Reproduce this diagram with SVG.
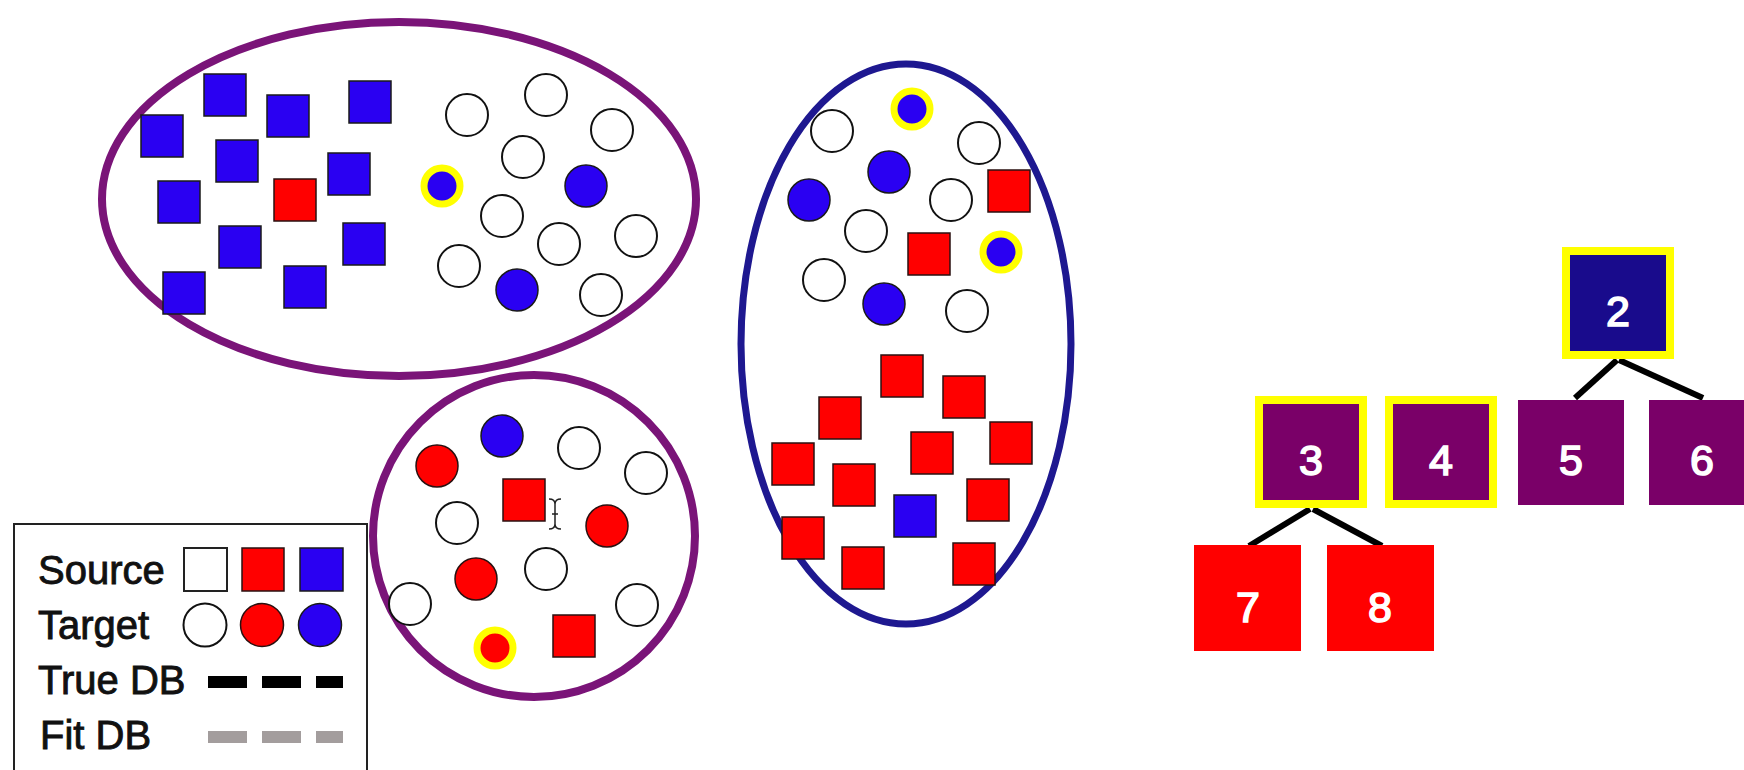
<svg xmlns="http://www.w3.org/2000/svg" xmlns:xlink="http://www.w3.org/1999/xlink" width="1744" height="770" viewBox="0 0 1744 770">
<style>
  .hull-p { fill: none; stroke: #7a1478; stroke-width: 8; }
  .hull-b { fill: none; stroke: #1e1890; stroke-width: 7; }
  .sb { fill: #2a00f2; stroke: #1a1a1a; stroke-width: 1.5; }
  .sr { fill: #ff0000; stroke: #2a1010; stroke-width: 1.5; }
  .sw { fill: #ffffff; stroke: #222; stroke-width: 2; }
  .cw { fill: #ffffff; stroke: #111; stroke-width: 2; }
  .cb { fill: #2a00f2; stroke: #1a1a1a; stroke-width: 1.5; }
  .cr { fill: #ff0000; stroke: #2a1010; stroke-width: 1.5; }
  .yb { fill: #2a00f2; stroke: #ffff00; stroke-width: 7; }
  .yr { fill: #ff0000; stroke: #ffff00; stroke-width: 7; }
  .lg { font-family: "Liberation Sans", Arial, sans-serif; font-size: 40px; fill: #111; stroke: #111; stroke-width: 0.9; }
  .num { font-family: "Liberation Sans", Arial, sans-serif; font-size: 43px; fill: #ffffff; stroke: #ffffff; stroke-width: 1.6; text-anchor: middle; }
  .edge { stroke: #000; stroke-width: 6; fill: none; }
  .navy { fill: #190b8c; }
  .purp { fill: #7a0068; }
  .red { fill: #ff0000; }
  .hl { stroke: #ffff00; stroke-width: 8; }
</style>
<defs>
  <rect id="sq" x="-21" y="-21" width="42" height="42"/>
  <circle id="dot" r="21"/>
  <circle id="ring" r="18"/>
</defs>
<rect width="1744" height="770" fill="#ffffff"/>

<g id="cluster1">
  <ellipse class="hull-p" cx="399" cy="199" rx="297" ry="177"/>
  <use href="#sq" class="sb" x="162" y="136"/>
  <use href="#sq" class="sb" x="225" y="95"/>
  <use href="#sq" class="sb" x="288" y="116"/>
  <use href="#sq" class="sb" x="370" y="102"/>
  <use href="#sq" class="sb" x="237" y="161"/>
  <use href="#sq" class="sb" x="349" y="174"/>
  <use href="#sq" class="sb" x="179" y="202"/>
  <use href="#sq" class="sr" x="295" y="200"/>
  <use href="#sq" class="sb" x="240" y="247"/>
  <use href="#sq" class="sb" x="364" y="244"/>
  <use href="#sq" class="sb" x="184" y="293"/>
  <use href="#sq" class="sb" x="305" y="287"/>
  <use href="#dot" class="cw" x="467" y="115"/>
  <use href="#dot" class="cw" x="546" y="95"/>
  <use href="#dot" class="cw" x="612" y="130"/>
  <use href="#dot" class="cw" x="523" y="157"/>
  <use href="#ring" class="yb" x="442" y="186"/>
  <use href="#dot" class="cb" x="586" y="186"/>
  <use href="#dot" class="cw" x="502" y="216"/>
  <use href="#dot" class="cw" x="559" y="244"/>
  <use href="#dot" class="cw" x="636" y="236"/>
  <use href="#dot" class="cw" x="459" y="266"/>
  <use href="#dot" class="cb" x="517" y="290"/>
  <use href="#dot" class="cw" x="601" y="295"/>
</g>

<g id="cluster2">
  <circle class="hull-p" cx="534" cy="536" r="161"/>
  <use href="#dot" class="cr" x="437" y="466"/>
  <use href="#dot" class="cb" x="502" y="436"/>
  <use href="#dot" class="cw" x="579" y="448"/>
  <use href="#dot" class="cw" x="646" y="473"/>
  <use href="#sq" class="sr" x="524" y="500"/>
  <use href="#dot" class="cw" x="457" y="523"/>
  <use href="#dot" class="cr" x="607" y="526"/>
  <use href="#dot" class="cr" x="476" y="579"/>
  <use href="#dot" class="cw" x="546" y="569"/>
  <use href="#dot" class="cw" x="410" y="604"/>
  <use href="#dot" class="cw" x="637" y="605"/>
  <use href="#ring" class="yr" x="495" y="648"/>
  <use href="#sq" class="sr" x="574" y="636"/>
  <path d="M549,499 q6,0 6,5 q0,-5 6,-5 M555,504 v20 M549,529 q6,0 6,-5 q0,5 6,5 M552,514 h6" fill="none" stroke="#222" stroke-width="1.5"/>
</g>

<g id="cluster3">
  <ellipse class="hull-b" cx="906" cy="344" rx="165" ry="280"/>
  <use href="#dot" class="cw" x="832" y="131"/>
  <use href="#ring" class="yb" x="912" y="109"/>
  <use href="#dot" class="cw" x="979" y="143"/>
  <use href="#dot" class="cb" x="889" y="172"/>
  <use href="#dot" class="cb" x="809" y="200"/>
  <use href="#dot" class="cw" x="951" y="200"/>
  <use href="#sq" class="sr" x="1009" y="191"/>
  <use href="#dot" class="cw" x="866" y="231"/>
  <use href="#sq" class="sr" x="929" y="254"/>
  <use href="#ring" class="yb" x="1001" y="252"/>
  <use href="#dot" class="cw" x="824" y="280"/>
  <use href="#dot" class="cb" x="884" y="304"/>
  <use href="#dot" class="cw" x="967" y="311"/>
  <use href="#sq" class="sr" x="902" y="376"/>
  <use href="#sq" class="sr" x="964" y="397"/>
  <use href="#sq" class="sr" x="840" y="418"/>
  <use href="#sq" class="sr" x="793" y="464"/>
  <use href="#sq" class="sr" x="932" y="453"/>
  <use href="#sq" class="sr" x="1011" y="443"/>
  <use href="#sq" class="sr" x="854" y="485"/>
  <use href="#sq" class="sb" x="915" y="516"/>
  <use href="#sq" class="sr" x="988" y="500"/>
  <use href="#sq" class="sr" x="803" y="538"/>
  <use href="#sq" class="sr" x="863" y="568"/>
  <use href="#sq" class="sr" x="974" y="564"/>
</g>

<g id="legend">
  <rect x="14" y="524" width="353" height="260" fill="#ffffff" stroke="#222" stroke-width="2"/>
  <text class="lg" x="38" y="584">Source</text>
  <text class="lg" x="38" y="639">Target</text>
  <text class="lg" x="38" y="694">True DB</text>
  <text class="lg" x="40" y="749">Fit DB</text>
  <rect class="sw" x="184" y="548" width="43" height="43"/>
  <rect class="sr" x="242" y="548" width="42" height="43"/>
  <rect class="sb" x="300" y="548" width="43" height="43"/>
  <circle class="cw" cx="205" cy="625" r="21.5"/>
  <circle class="cr" cx="262" cy="625" r="21.5"/>
  <circle class="cb" cx="320" cy="625" r="21.5"/>
  <line x1="208" y1="682" x2="343" y2="682" stroke="#000" stroke-width="12" stroke-dasharray="39 15"/>
  <line x1="208" y1="737" x2="343" y2="737" stroke="#a39d9d" stroke-width="12" stroke-dasharray="39 15"/>
</g>

<g id="connectors">
  <line class="edge" x1="1617" y1="360" x2="1575" y2="398"/>
  <line class="edge" x1="1619" y1="360" x2="1703" y2="398"/>
  <line class="edge" x1="1310" y1="509" x2="1249" y2="546"/>
  <line class="edge" x1="1313" y1="509" x2="1382" y2="546"/>
</g>

<g id="node2">
  <rect class="navy hl" x="1566" y="251" width="104" height="104"/>
  <text class="num" x="1618" y="326">2</text>
</g>
<g id="node3">
  <rect class="purp hl" x="1259" y="400" width="104" height="104"/>
  <text class="num" x="1311" y="475">3</text>
</g>
<g id="node4">
  <rect class="purp hl" x="1389" y="400" width="104" height="104"/>
  <text class="num" x="1441" y="475">4</text>
</g>
<g id="node5">
  <rect class="purp" x="1518" y="400" width="106" height="105"/>
  <text class="num" x="1571" y="475">5</text>
</g>
<g id="node6">
  <rect class="purp" x="1649" y="400" width="106" height="105"/>
  <text class="num" x="1702" y="475">6</text>
</g>
<g id="node7">
  <rect class="red" x="1194" y="545" width="107" height="106"/>
  <text class="num" x="1248" y="622">7</text>
</g>
<g id="node8">
  <rect class="red" x="1327" y="545" width="107" height="106"/>
  <text class="num" x="1380" y="622">8</text>
</g>
</svg>
